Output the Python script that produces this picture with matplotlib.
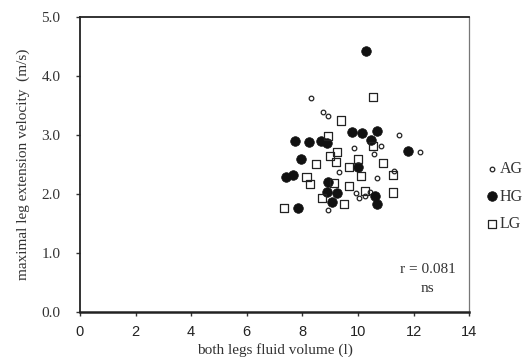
import numpy as np
import matplotlib
matplotlib.use("Agg")
import matplotlib.pyplot as plt

# AG group (small open circles)
ag_x = [8.31, 8.75, 8.91, 11.46, 9.86, 10.83, 10.58, 12.23, 9.32, 10.68, 11.28, 9.93, 10.44, 10.04, 10.26, 8.93]
ag_y = [3.63, 3.39, 3.32, 3.00, 2.79, 2.82, 2.68, 2.71, 2.37, 2.27, 2.40, 2.02, 2.04, 1.93, 1.97, 1.73]

# HG group (filled circles)
hg_x = [10.30, 9.80, 10.14, 10.69, 10.47, 7.75, 8.25, 8.66, 8.88, 11.80, 7.95, 7.40, 7.66,
        9.99, 8.91, 8.87, 9.26, 9.06, 10.60, 10.69, 7.85]
hg_y = [4.43, 3.06, 3.04, 3.08, 2.92, 2.91, 2.89, 2.90, 2.86, 2.73, 2.59, 2.30, 2.33,
        2.46, 2.20, 2.04, 2.03, 1.87, 1.97, 1.83, 1.77]

# LG group (open squares)
lg_x = [10.53, 9.38, 8.93, 10.54, 9.26, 8.99, 9.20, 8.48, 9.99, 9.68, 10.90, 10.12, 11.27,
        8.15, 8.27, 9.15, 9.69, 10.25, 11.25, 8.69, 9.51, 7.35]
lg_y = [3.64, 3.25, 2.99, 2.82, 2.72, 2.65, 2.54, 2.52, 2.59, 2.46, 2.53, 2.31, 2.33,
        2.30, 2.17, 2.19, 2.14, 2.05, 2.03, 1.93, 1.84, 1.77]

serif = ["Liberation Serif", "DejaVu Serif"]
sans = ["Liberation Sans", "DejaVu Sans"]

fig = plt.figure(figsize=(5.26, 3.57), dpi=100)
ax = fig.add_axes([0.152, 0.125, 0.740, 0.827])

ax.scatter(ag_x, ag_y, s=11, facecolors="white", edgecolors="#222222", linewidths=0.9, label="AG", zorder=3)
ax.scatter(hg_x, hg_y, s=48, facecolors="#111111", edgecolors="#111111", linewidths=0.5, label="HG", zorder=3)
ax.scatter(lg_x, lg_y, s=34, marker="s", facecolors="none", edgecolors="#222222", linewidths=0.9, label="LG", zorder=3)

ax.set_xlim(0, 14)
ax.set_ylim(0, 5)
ax.set_xticks(np.arange(0, 15, 2))
ax.set_yticks(np.arange(0, 5.1, 1.0))
ax.set_yticklabels([f"{v:.1f}" for v in np.arange(0, 5.1, 1.0)], fontfamily=serif, fontsize=11, color="#333333")
ax.set_xticklabels([str(v) for v in range(0, 15, 2)], fontfamily=sans, fontsize=10.5, color="#222222")
ax.tick_params(axis="both", direction="out", length=3, width=1, color="#333333")
ax.tick_params(axis="y", pad=11)
ax.tick_params(axis="x", pad=6)

ax.spines["bottom"].set_linewidth(1.8)
ax.spines["left"].set_linewidth(1.3)
ax.spines["top"].set_linewidth(1.3)
ax.spines["right"].set_linewidth(0.9)
ax.spines["right"].set_color("#777777")
for s in ["bottom", "left", "top"]:
    ax.spines[s].set_color("#222222")

ax.set_xlabel("both legs fluid volume (l)", fontfamily=serif, fontsize=11, color="#333333", labelpad=3)
ax.set_ylabel("maximal leg extension velocity  (m/s)", fontfamily=serif, fontsize=11, color="#333333", labelpad=8)

ax.text(12.5, 0.72, "r = 0.081", fontfamily=serif, fontsize=11, ha="center", va="center", color="#333333")
ax.text(12.5, 0.41, "ns", fontfamily=serif, fontsize=11, ha="center", va="center", color="#333333")

leg = ax.legend(loc="upper left", bbox_to_anchor=(1.0, 0.56), frameon=False, handletextpad=0.0,
                handlelength=1.0, labelspacing=0.7, prop={"family": serif, "size": 11.5})
for t in leg.get_texts():
    t.set_color("#333333")

fig.savefig("out.png", dpi=100)
